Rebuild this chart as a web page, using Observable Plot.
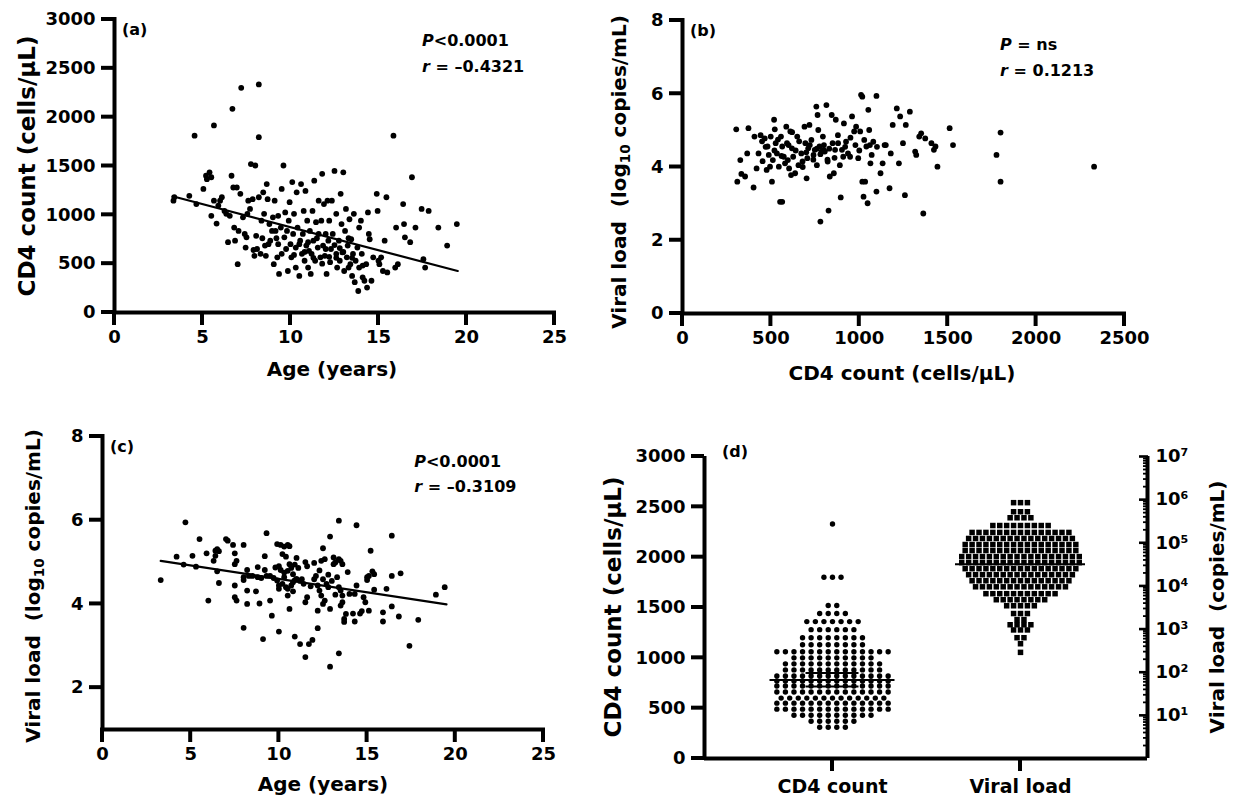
<!DOCTYPE html>
<html><head><meta charset="utf-8">
<script src="https://cdn.jsdelivr.net/npm/d3@7"></script>
<script src="https://cdn.jsdelivr.net/npm/@observablehq/plot@0.6"></script>
<style>
body{margin:0;background:#fff;}
#root{position:relative;width:1236px;height:798px;overflow:hidden;font-family:"DejaVu Sans",sans-serif;font-weight:bold;color:#000;}
.ttl{position:absolute;white-space:nowrap;line-height:1;transform:translate(-50%,-50%);}
.vttl{position:absolute;white-space:nowrap;line-height:1;transform:translate(-50%,-50%) rotate(-90deg);}
sub{font-size:0.68em;vertical-align:-0.28em;line-height:0;}
</style></head>
<body><div id="root"></div>
<script>
// ---------------- data ----------------
const ageTicks = [0, 5, 10, 15, 20, 25];
const cd4Ticks = [0, 500, 1000, 1500, 2000, 2500, 3000];
const vlTicksB = [0, 2, 4, 6, 8];
const vlTicksC = [2, 4, 6, 8];
const cd4TicksB = [0, 500, 1000, 1500, 2000, 2500];
const categoriesD = ["CD4 count", "Viral load"];
const vlMajorTicks = [1e1, 1e2, 1e3, 1e4, 1e5, 1e6, 1e7];
const vlMinorBase = [1, 10, 100, 1000, 10000, 100000, 1000000];
const vlMinorSteps = [2, 3, 4, 5, 6, 7, 8, 9];

// (a) Age (years) vs CD4 count
const pointsA = [
[3.35,1145],[3.4,1180],[4.25,1195],[4.55,1810],[4.65,1110],[5.05,1265],[5.2,1400],[5.25,1365],[5.4,1435],[5.5,1385],[5.5,990],[5.65,1915],[5.65,1145],[5.8,910],[5.9,1095],[6.0,1145],[6.1,1180],[6.25,1040],[6.35,1010],[6.45,720],[6.55,990],[6.65,1400],[6.7,2085],[6.75,1280],[6.8,870],[6.85,735],[6.95,1280],[7.0,495],[7.05,835],[7.15,1215],[7.2,2300],[7.3,975],[7.4,805],[7.45,665],[7.5,770],[7.55,1010],[7.6,1145],[7.7,1060],[7.75,1520],[7.85,1160],[7.9,640],[7.95,580],[8.0,1505],[8.05,785],[8.1,650],[8.2,2335],[8.2,1795],[8.2,1180],[8.3,600],[8.35,940],[8.45,1230],[8.5,1010],[8.55,685],[8.6,580],[8.65,1315],[8.7,1160],[8.75,700],[8.8,905],[8.85,735],[8.95,835],[9.0,975],[9.05,495],[9.1,1145],[9.15,835],[9.25,565],[9.3,700],[9.3,990],[9.35,395],[9.45,870],[9.5,1265],[9.5,600],[9.6,1505],[9.65,770],[9.7,1025],[9.75,650],[9.8,835],[9.85,425],[9.9,940],[9.95,1130],[10.0,700],[10.05,565],[10.1,1335],[10.15,805],[10.2,1010],[10.3,665],[10.3,460],[10.35,1230],[10.4,870],[10.5,375],[10.55,735],[10.6,1315],[10.65,600],[10.7,805],[10.75,1040],[10.8,530],[10.85,1245],[10.9,685],[10.95,940],[11.0,460],[11.05,630],[11.1,835],[11.15,395],[11.2,600],[11.25,1040],[11.3,735],[11.35,1350],[11.4,530],[11.45,925],[11.55,665],[11.6,1145],[11.6,805],[11.7,565],[11.75,940],[11.8,1420],[11.85,685],[11.9,1110],[11.95,580],[12.0,805],[12.05,395],[12.1,1145],[12.15,735],[12.2,940],[12.25,515],[12.3,650],[12.35,1145],[12.4,805],[12.5,1450],[12.6,600],[12.6,1010],[12.65,460],[12.75,735],[12.8,530],[12.85,1215],[12.9,905],[12.95,615],[13.0,1435],[13.05,425],[13.1,835],[13.15,1060],[13.2,565],[13.25,685],[13.3,460],[13.35,955],[13.4,495],[13.45,750],[13.5,375],[13.55,600],[13.6,1010],[13.65,310],[13.7,530],[13.8,665],[13.85,220],[13.9,460],[13.9,870],[14.0,940],[14.05,600],[14.1,360],[14.2,325],[14.3,495],[14.35,255],[14.4,1025],[14.45,805],[14.5,750],[14.6,325],[14.7,565],[14.9,1215],[14.95,1040],[15.0,530],[15.05,495],[15.15,565],[15.25,425],[15.35,735],[15.45,1180],[15.5,410],[15.85,1810],[15.95,460],[16.0,870],[16.1,495],[16.4,1110],[16.45,905],[16.5,770],[16.8,720],[16.9,1385],[17.1,870],[17.45,1060],[17.55,545],[17.65,460],[17.85,1040],[18.4,870],[18.9,685],[19.45,905],
[10.5,700],[11.0,720],[11.5,760],[12.0,650],[12.5,690],[13.0,620],[13.5,560],[11.3,560],[12.2,570],[10.8,620],[9.2,760],[8.4,760],[12.8,660],[13.3,760],[14.1,480],[11.8,500],[10.2,590],[12.6,560]
];
const fitA = [[3.3, 1190], [19.5, 425]];

// (b) CD4 count vs log10 viral load
const pointsB = [
[304,5.03],[310,3.60],[327,4.19],[333,3.81],[354,3.74],[373,5.06],[366,4.37],[402,3.44],[407,4.83],[419,3.96],[430,4.37],[442,4.87],[453,4.16],[465,4.78],[476,3.92],[481,4.56],[488,4.33],[495,4.01],[499,4.83],[506,3.60],[511,4.19],[518,5.29],[522,5.03],[527,4.65],[534,4.37],[545,4.01],[552,3.05],[564,3.05],[557,4.83],[564,4.56],[573,4.28],[587,5.10],[591,4.65],[596,4.19],[603,3.96],[610,4.97],[614,3.78],[619,4.51],[626,4.28],[637,3.83],[649,4.83],[656,4.05],[672,4.37],[679,4.15],[690,5.10],[695,4.65],[702,3.69],[706,4.24],[711,4.51],[718,5.15],[729,4.74],[741,4.33],[748,4.47],[757,5.65],[764,5.42],[768,5.01],[775,4.56],[780,2.51],[787,4.42],[794,4.83],[798,4.47],[805,4.42],[814,5.69],[821,4.15],[826,2.81],[833,3.74],[844,5.42],[849,4.65],[856,3.83],[863,4.47],[867,5.29],[879,4.87],[890,4.05],[895,3.17],[902,4.47],[909,4.28],[913,5.19],[925,4.69],[936,4.37],[948,4.28],[959,5.38],[971,4.97],[978,4.60],[982,5.10],[994,4.24],[1005,4.97],[1010,5.97],[1017,5.92],[1017,3.60],[1024,3.19],[1028,4.74],[1033,3.60],[1040,4.56],[1047,3.01],[1051,5.56],[1056,5.01],[1063,4.10],[1070,4.33],[1079,4.69],[1097,5.94],[1097,3.33],[1120,3.83],[1132,4.10],[1143,4.60],[1171,3.42],[1178,4.37],[1189,5.15],[1212,5.60],[1224,4.10],[1231,5.38],[1247,4.65],[1258,3.23],[1263,5.15],[1286,5.51],[1316,4.42],[1322,4.33],[1339,4.83],[1350,4.92],[1362,2.73],[1373,4.78],[1408,4.65],[1422,4.47],[1431,4.56],[1442,4.01],[1511,5.06],[1530,4.60],[1776,4.33],[1799,4.94],[1799,3.60],[2328,4.01],
[450,4.70],[470,4.55],[520,4.45],[540,4.75],[560,4.30],[600,4.60],[620,4.95],[640,4.45],[660,4.70],[700,4.40],[720,4.60],[740,4.20],[760,4.50],[780,4.35],[800,4.60],[830,4.50],[860,4.25],[880,4.65],[920,4.55],[950,4.80],[1000,4.45],[1060,4.60],[1100,4.55],[1150,4.60],[580,4.10],[680,4.00],[760,4.05],[820,4.20]
];

// (c) Age vs log10 viral load
const pointsC = [
[3.3,4.57],[4.7,5.95],[4.2,5.13],[4.6,4.94],[5.1,5.15],[5.3,4.89],[5.5,5.55],[5.9,5.21],[6.0,4.08],[6.3,5.03],[6.4,5.27],[6.5,5.31],[6.6,5.26],[6.4,5.15],[6.5,4.78],[6.6,4.50],[7.0,5.55],[7.1,5.51],[7.4,5.41],[7.5,5.21],[7.5,4.95],[7.6,5.03],[7.5,4.44],[7.5,4.16],[7.6,4.08],[8.0,5.41],[8.0,4.64],[8.0,4.57],[8.2,4.81],[8.3,4.67],[8.2,4.32],[8.2,4.00],[8.0,3.43],[8.5,4.67],[8.7,4.30],[8.8,4.64],[8.9,4.01],[9.1,3.16],[9.2,5.14],[9.2,4.81],[9.3,4.67],[9.3,5.69],[9.5,4.08],[9.6,3.72],[9.5,4.67],[9.7,4.62],[9.8,4.87],[9.9,4.56],[10.0,4.44],[10.0,4.36],[10.0,3.34],[9.9,5.43],[10.1,5.41],[10.3,5.37],[10.5,5.41],[10.6,5.38],[10.2,5.19],[10.4,5.13],[10.1,4.81],[10.3,4.75],[10.3,4.64],[10.5,4.79],[10.6,4.95],[10.7,4.86],[10.8,4.71],[10.2,4.48],[10.4,4.40],[10.5,4.36],[10.7,4.44],[10.8,4.52],[10.9,4.57],[10.5,4.20],[10.6,3.88],[10.9,3.22],[11.2,3.04],[10.9,4.94],[11.0,5.10],[11.1,4.86],[11.3,4.59],[11.4,4.48],[11.5,5.00],[11.6,4.90],[11.5,4.04],[11.6,4.16],[11.5,2.73],[11.7,3.04],[11.9,3.14],[12.0,4.59],[12.1,4.67],[12.2,4.44],[12.3,4.32],[12.4,4.20],[12.2,3.42],[12.2,3.84],[12.5,5.33],[12.4,5.03],[12.6,5.07],[12.5,4.59],[12.7,4.48],[12.8,4.40],[12.5,4.00],[12.6,4.08],[12.9,5.61],[12.9,2.50],[12.9,3.88],[13.1,5.11],[13.1,4.95],[13.2,4.99],[13.4,5.07],[13.5,5.03],[13.6,4.95],[13.4,5.99],[13.3,4.64],[13.4,4.40],[13.5,4.32],[13.6,4.20],[13.6,4.04],[13.5,3.96],[13.4,2.82],[13.7,3.64],[13.8,3.76],[13.7,3.57],[14.0,4.24],[13.9,4.76],[14.2,3.77],[14.3,3.58],[14.4,5.88],[14.4,4.44],[14.3,4.24],[14.6,3.77],[14.7,3.83],[14.9,4.04],[14.8,4.16],[15.0,4.64],[15.0,4.57],[15.1,4.67],[15.2,5.27],[15.1,3.84],[15.3,4.78],[15.4,4.71],[15.4,4.34],[15.9,3.80],[15.9,3.58],[16.1,4.36],[16.4,5.63],[16.4,4.67],[16.4,3.94],[16.8,3.70],[16.9,4.73],[17.4,3.00],[17.9,3.62],[18.9,4.22],[19.4,4.40],
[11.0,4.60],[11.2,4.55],[9.0,4.62],[12.0,4.98],[10.0,4.90],[11.8,4.42],[13.0,4.55],[13.2,4.22],[12.3,4.80],[8.8,4.88],[10.8,4.30],[12.8,4.70]
];
const fitC = [[3.3, 5.03], [19.5, 3.99]];

// (d) CD4 count swarm (cells/µL), grouped in rows as in the figure
const cd4Swarm = [
2330,
1800,1800,1800,
1520,1520,
1440,1440,1440,1440,
1360,1360,1360,1360,1360,1360,1360,
1280,1280,1280,1280,1280,1280,
1200,1200,1200,1200,1200,1200,1200,1200,
1130,1130,1130,1130,1130,1130,1130,1130,
1060,1060,1060,1060,1060,1060,1060,1060,1060,1060,1060,1060,1060,1060,
1000,1000,1000,1000,1000,1000,1000,1000,1000,1000,
940,940,940,940,940,940,940,940,940,940,940,940,
880,880,880,880,880,880,880,880,880,880,880,880,
820,820,820,820,820,820,820,820,820,820,820,820,820,820,
770,770,770,770,770,770,770,770,770,770,770,770,770,770,
720,720,720,720,720,720,720,720,720,720,720,720,720,720,
660,660,660,660,660,660,660,660,660,660,660,660,660,660,
600,600,600,600,600,600,600,600,600,600,600,600,600,
550,550,550,550,550,550,550,550,550,550,550,550,550,550,
490,490,490,490,490,490,490,490,490,490,490,490,490,490,
430,430,430,430,430,430,430,430,430,430,
370,370,370,370,370,370,
310,310,310,310
];
const cd4Mean = 780;
const cd4ErrorCaps = [850, 715];

// (d) viral load swarm, log10 copies/mL, grouped in rows as in the figure
const vlSwarmLog = [
5.93,5.93,5.93,
5.72,5.72,5.72,
5.58,5.58,5.58,5.58,
5.40,5.40,5.40,5.40,5.40,5.40,5.40,5.40,5.40,
5.24,5.24,5.24,5.24,5.24,5.24,5.24,5.24,5.24,5.24,5.24,5.24,5.24,5.24,5.24,
5.10,5.10,5.10,5.10,5.10,5.10,5.10,5.10,5.10,5.10,5.10,5.10,5.10,5.10,5.10,5.10,
4.96,4.96,4.96,4.96,4.96,4.96,4.96,4.96,4.96,4.96,4.96,4.96,4.96,4.96,4.96,4.96,4.96,
4.82,4.82,4.82,4.82,4.82,4.82,4.82,4.82,4.82,4.82,4.82,4.82,4.82,4.82,4.82,4.82,4.82,
4.68,4.68,4.68,4.68,4.68,4.68,4.68,4.68,4.68,4.68,4.68,4.68,4.68,4.68,4.68,4.68,4.68,4.68,
4.54,4.54,4.54,4.54,4.54,4.54,4.54,4.54,4.54,4.54,4.54,4.54,4.54,4.54,4.54,4.54,4.54,4.54,
4.40,4.40,4.40,4.40,4.40,4.40,4.40,4.40,4.40,4.40,4.40,4.40,4.40,4.40,4.40,4.40,4.40,
4.26,4.26,4.26,4.26,4.26,4.26,4.26,4.26,4.26,4.26,4.26,4.26,4.26,4.26,4.26,4.26,
4.12,4.12,4.12,4.12,4.12,4.12,4.12,4.12,4.12,4.12,4.12,4.12,4.12,4.12,4.12,
3.98,3.98,3.98,3.98,3.98,3.98,3.98,3.98,3.98,3.98,3.98,3.98,3.98,3.98,
3.82,3.82,3.82,3.82,3.82,3.82,3.82,3.82,3.82,3.82,3.82,
3.68,3.68,3.68,3.68,3.68,3.68,3.68,3.68,
3.54,3.54,3.54,3.54,3.54,
3.36,3.36,3.36,
3.22,3.22,
3.10,3.10,3.10,3.10,
2.98,2.98,2.98,
2.80,2.80,
2.66,
2.46
];
const vlMeanLog = 4.5;

// annotations
const annA = {x: 17.5, y: [2723, 2455], lines: [["P", "<0.0001"], ["r", " = \u20130.4321"]]};
const annB = {x: 1799, y: [7.18, 6.47], lines: [["P", " = ns"], ["r", " = 0.1213"]]};
const annC = {x: 17.7, y: [7.26, 6.66], lines: [["P", "<0.0001"], ["r", " = \u20130.3109"]]};

// ---------------- drawing ----------------
const FONT = '"DejaVu Sans", sans-serif';
const root = document.getElementById("root");
const baseStyle = {fontFamily: FONT, fontSize: "18px", fontWeight: "bold", color: "#000", background: "transparent", overflow: "visible"};
const intFmt = d3.format("d");
const TICK = 13;     // tick length
const AXW = 4;       // axis line width
const IN = 16;       // scale inset so that outward ticks stay inside the plot frame
const TICKCOLOR = "#000";

function place(el, left, top) {
  el.style.position = "absolute";
  el.style.left = left + "px";
  el.style.top = top + "px";
  el.style.maxWidth = "none";
  root.appendChild(el);
  return el;
}
function title(html, cx, cy, size, vertical) {
  const d = document.createElement("div");
  d.className = vertical ? "vttl" : "ttl";
  d.style.left = cx + "px";
  d.style.top = cy + "px";
  d.style.fontSize = size + "px";
  d.innerHTML = html;
  root.appendChild(d);
}
function addLetter(svgEl, text, x, y) {
  d3.select(svgEl).append("text").attr("x", x).attr("y", y).attr("text-anchor", "start")
    .attr("font-family", FONT).attr("font-size", 16).attr("font-weight", "bold").attr("fill", "#000").text(text);
}
function addAnnotation(plot, ann) {
  const sx = plot.scale("x"), sy = plot.scale("y");
  ann.lines.forEach(([it, rest], i) => {
    const t = d3.select(plot).append("text")
      .attr("x", sx.apply(ann.x)).attr("y", sy.apply(ann.y[i])).attr("text-anchor", "start")
      .attr("font-family", FONT).attr("font-size", 16).attr("font-weight", "bold").attr("fill", "#000");
    t.append("tspan").attr("font-style", "italic").text(it);
    t.append("tspan").text(rest);
  });
}
// outward tick marks at the positions given by a plot's own scales, drawn into target svg
function addTicks(scalePlot, target, xTicks, yTicks, left, bottom) {
  const sx = scalePlot.scale("x"), sy = scalePlot.scale("y");
  const g = d3.select(target).append("g");
  if (xTicks) xTicks.forEach(d => {
    g.append("line").attr("x1", sx.apply(d)).attr("x2", sx.apply(d)).attr("y1", bottom).attr("y2", bottom + TICK)
      .attr("stroke", TICKCOLOR).attr("stroke-width", AXW);
  });
  if (yTicks) yTicks.forEach(d => {
    g.append("line").attr("y1", sy.apply(d)).attr("y2", sy.apply(d)).attr("x1", left - TICK).attr("x2", left)
      .attr("stroke", TICKCOLOR).attr("stroke-width", AXW);
  });
}
function yLabels(ticks, gap, fmt) {
  return Plot.axisY(ticks, {tickSize: 0, tickPadding: TICK + gap - IN, tickFormat: fmt || intFmt, label: null});
}
function xLabels(ticks, gap, fmt, extra) {
  return Plot.axisX(ticks, {tickSize: 0, tickPadding: TICK + gap - IN, tickFormat: fmt || intFmt, label: null, ...(extra || {})});
}
function rowSlots(values) {
  const counts = d3.rollup(values, v => v.length, d => d);
  const seen = new Map();
  return values.map(v => {
    const k = seen.get(v) || 0;
    seen.set(v, k + 1);
    return {value: v, slot: k - (counts.get(v) - 1) / 2};
  });
}

function scatterPanel(o) {
  const [x0, x1] = o.xDomain, [y0, y1] = o.yDomain;
  const marks = [
    Plot.dot(o.points, {x: d => d[0], y: d => d[1], r: 2.9, fill: "#000", stroke: "none"})
  ];
  if (o.fit) marks.push(Plot.line(o.fit, {x: d => d[0], y: d => d[1], stroke: "#000", strokeWidth: 2.2}));
  marks.push(
    Plot.ruleX([x0], {y1: y0, y2: y1, stroke: "#000", strokeWidth: AXW, strokeLinecap: "square"}),
    Plot.ruleY([y0], {x1: x0, x2: x1, stroke: "#000", strokeWidth: AXW, strokeLinecap: "square"}),
    xLabels(o.xTicks, 5),
    yLabels(o.yTicks, 6)
  );
  const p = Plot.plot({
    width: o.width, height: o.height,
    marginLeft: o.m[0] - IN, marginRight: o.m[1], marginTop: o.m[2], marginBottom: o.m[3] - IN,
    style: baseStyle,
    x: {domain: o.xDomain, insetLeft: IN}, y: {domain: o.yDomain, insetBottom: IN},
    marks
  });
  place(p, o.left, o.top);
  addTicks(p, p, o.xTicks, o.yTicks, o.m[0], o.height - o.m[3]);
  addLetter(p, o.letter, o.m[0] + 8, o.m[2] + 16);
  addAnnotation(p, o.ann);
  return p;
}

// (a)
scatterPanel({left: 0, top: 0, width: 600, height: 400, m: [114, 46, 19, 88],
  xDomain: [0, 25], yDomain: [0, 3000], xTicks: ageTicks, yTicks: cd4Ticks,
  points: pointsA, fit: fitA, letter: "(a)", ann: annA});
title("CD4 count (cells/µL)", 27, 166, 23, true);
title("Age (years)", 332, 369, 20, false);

// (b)
scatterPanel({left: 600, top: 0, width: 636, height: 400, m: [82, 112, 20, 87],
  xDomain: [0, 2500], yDomain: [0, 8], xTicks: cd4TicksB, yTicks: vlTicksB,
  points: pointsB, fit: null, letter: "(b)", ann: annB});
title("Viral load&nbsp; (log<sub>10</sub> copies/mL)", 619, 172, 20, true);
title("CD4 count (cells/µL)", 902, 373, 20, false);

// (c)
scatterPanel({left: 0, top: 410, width: 600, height: 388, m: [102, 57, 26, 69],
  xDomain: [0, 25], yDomain: [1, 8], xTicks: ageTicks, yTicks: vlTicksC,
  points: pointsC, fit: fitC, letter: "(c)", ann: annC});
title("Viral load&nbsp; (log<sub>10</sub> copies/mL)", 33, 586, 20, true);
title("Age (years)", 323, 784, 20, false);

// (d) base: left linear axis and category axis
const dM = {marginTop: 46, marginBottom: 40};
const D1 = Plot.plot({
  width: 636, height: 388, marginLeft: 104 - IN, marginRight: 89, marginTop: 46, marginBottom: 40 - IN, style: baseStyle,
  x: {type: "point", domain: categoriesD, padding: 0.678, insetLeft: IN},
  y: {domain: [0, 3000], insetBottom: IN},
  marks: [
    Plot.ruleY([0], {stroke: "#000", strokeWidth: AXW, insetLeft: IN}),
    yLabels(cd4Ticks, 6),
    xLabels(categoriesD, 8, d => d, {fontSize: 19})
  ]
});
place(D1, 600, 410);
addLetter(D1, "(d)", 122, 47);

// (d) CD4 swarm
const D2 = Plot.plot({
  width: 636, height: 388, marginLeft: 169.5, marginRight: 341.5, ...dM, style: baseStyle,
  x: {domain: [-7.3, 7.3], axis: null},
  y: {domain: [0, 3000], axis: null},
  marks: [
    Plot.dot(rowSlots(cd4Swarm), {x: "slot", y: "value", r: 2.7, fill: "#000", stroke: "none"}),
    Plot.ruleY([cd4Mean], {stroke: "#000", strokeWidth: 2}),
    Plot.ruleY(cd4ErrorCaps, {stroke: "#000", strokeWidth: 2, insetLeft: 36, insetRight: 36})
  ]
});
place(D2, 600, 410);

// (d) viral load swarm on log scale
const D3 = Plot.plot({
  width: 636, height: 388, marginLeft: 355, marginRight: 151, ...dM, style: baseStyle,
  x: {domain: [-9.4, 9.4], axis: null},
  y: {type: "log", domain: [1, 1e7], axis: null},
  marks: [
    Plot.dot(rowSlots(vlSwarmLog), {x: "slot", y: d => 10 ** d.value, r: 3.1, symbol: "square", fill: "#000", stroke: "none"}),
    Plot.ruleY([10 ** vlMeanLog], {stroke: "#000", strokeWidth: 2})
  ]
});
place(D3, 600, 410);

// (d) frame lines and right log axis
const vlMinorTicks = vlMinorBase.flatMap(b => vlMinorSteps.map(s => s * b));
const supDigits = {0: "\u2070", 1: "\u00b9", 2: "\u00b2", 3: "\u00b3", 4: "\u2074", 5: "\u2075", 6: "\u2076", 7: "\u2077"};
const D4 = Plot.plot({
  width: 636, height: 388, marginLeft: 104, marginRight: 89, ...dM, style: baseStyle,
  x: {domain: [0, 1], axis: null},
  y: {type: "log", domain: [1, 1e7]},
  marks: [
    Plot.ruleX([0, 1], {stroke: "#000", strokeWidth: AXW}),
    Plot.axisY(vlMinorTicks, {anchor: "right", tickSize: 5, dx: -5, strokeWidth: 1.8, fill: "none", label: null}),
    Plot.axisY(vlMajorTicks, {anchor: "right", tickSize: 9, dx: -9, strokeWidth: 2.6, fill: "none", label: null}),
    Plot.axisY(vlMajorTicks, {anchor: "right", tickSize: 0, tickPadding: 8, label: null, fontSize: 18,
      tickFormat: d => "10" + supDigits[Math.round(Math.log10(d))]})
  ]
});
place(D4, 600, 410);
// left and bottom ticks of (d), positioned by the base plot's scales, drawn on the top layer
addTicks(D1, D4, categoriesD, cd4Ticks, 104, 388 - 40);
title("CD4 count (cells/µL)", 613, 607, 23, true);
title("Viral load&nbsp; (copies/mL)", 1217, 607, 20, true);
</script>
</body></html>
